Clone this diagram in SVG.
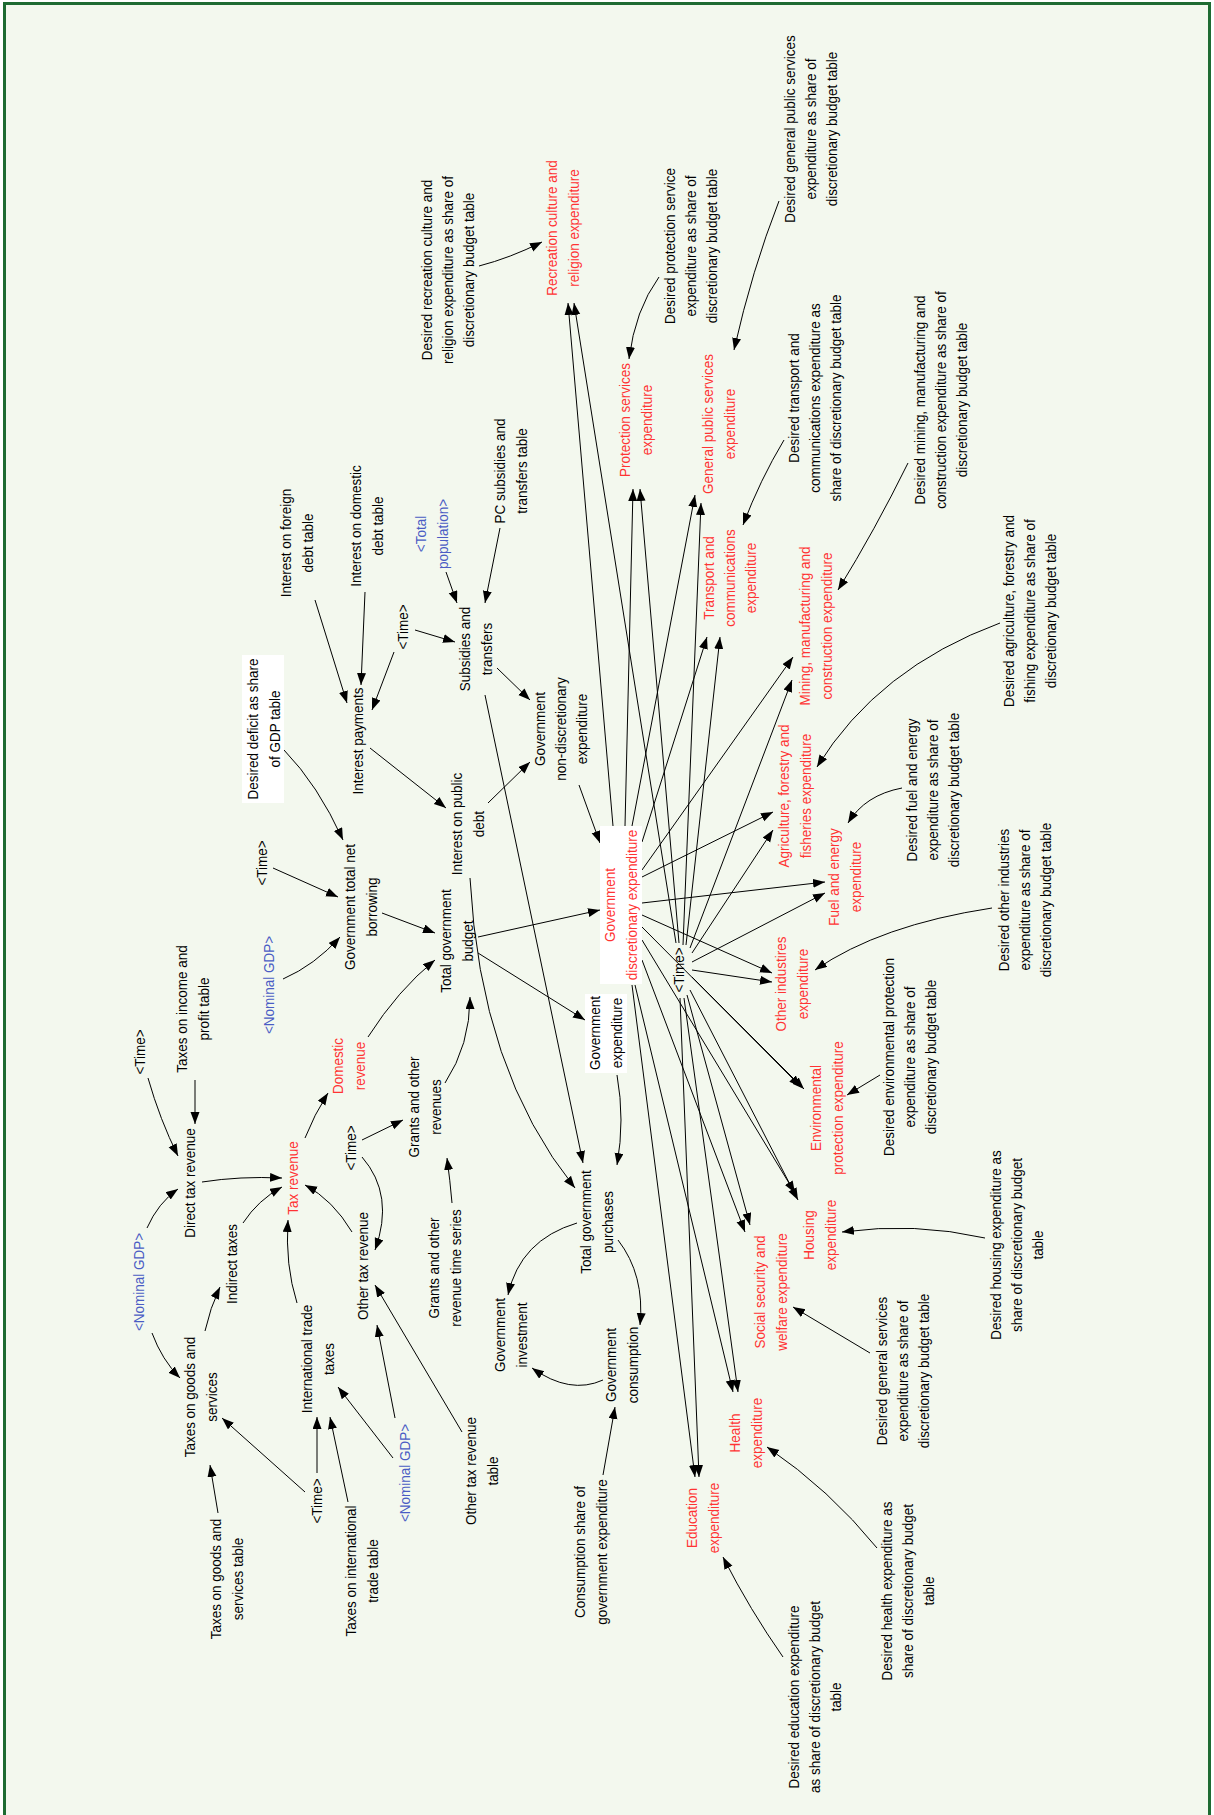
<svg xmlns="http://www.w3.org/2000/svg" width="1214" height="1815" viewBox="0 0 1214 1815">
<style>
.t{font-family:"Liberation Sans",Arial,sans-serif;font-size:15px;text-anchor:middle}
.k{fill:#000}.r{fill:#f33}.b{fill:#4a5cc4}
.c path,.c line{stroke:#000;stroke-width:1;fill:none;marker-end:url(#ah)}
.wb{fill:#fff}
</style>
<defs>
<marker id="ah" markerUnits="userSpaceOnUse" markerWidth="14" markerHeight="10" refX="12" refY="4.5" orient="auto"><path d="M0,0 L12,4.5 L0,9 z" fill="#000"/></marker>
</defs>
<rect x="0" y="0" width="1214" height="1815" fill="#fff"/>
<rect x="4.5" y="3.5" width="1205" height="1840" fill="#f3f8ee" stroke="#1e6b32" stroke-width="3"/>

<g id="connectors" class="c">
<path d="M148,1078 Q160,1120 178,1156"/>
<path d="M195,1080 L195,1124"/>
<path d="M147,1228 Q158,1203 178,1189"/>
<path d="M152,1333 Q162,1360 180,1378"/>
<path d="M205,1331 Q210,1308 220,1287"/>
<path d="M202,1182 Q240,1176 282,1178"/>
<path d="M243,1223 Q258,1200 282,1187"/>
<path d="M297,1303 Q285,1265 288,1220"/>
<path d="M352,1232 Q333,1200 305,1185"/>
<path d="M305,1138 Q314,1115 328,1093"/>
<path d="M368,1037 Q398,990 435,960"/>
<path d="M283,979 Q315,965 340,937"/>
<path d="M273,868 L338,897"/>
<path d="M284,750 Q318,785 343,840"/>
<path d="M382,913 L435,933"/>
<path d="M445,1083 Q470,1045 470,997"/>
<path d="M452,1203 Q450,1180 447,1158"/>
<path d="M362,1140 L403,1120"/>
<path d="M362,1157 Q395,1195 375,1250"/>
<path d="M462,1432 L375,1285"/>
<path d="M395,1418 L377,1325"/>
<path d="M393,1458 L338,1387"/>
<path d="M317,1473 L317,1417"/>
<path d="M305,1492 L222,1418"/>
<path d="M348,1502 L330,1417"/>
<path d="M218,1513 L210,1465"/>
<path d="M315,600 L347,703"/>
<path d="M365,592 L361,685"/>
<path d="M394,652 L372,710"/>
<path d="M415,630 L455,642"/>
<path d="M446,572 L457,603"/>
<path d="M500,528 L485,603"/>
<path d="M497,668 L530,700"/>
<path d="M370,748 L446,808"/>
<path d="M488,803 L530,762"/>
<path d="M579,785 L600,843"/>
<path d="M485,695 L583,1163"/>
<path d="M470,878 Q480,1070 575,1188"/>
<path d="M478,937 L600,910"/>
<path d="M478,953 L585,1020"/>
<path d="M617,1075 Q625,1120 617,1165"/>
<path d="M577,1223 Q520,1240 508,1295"/>
<path d="M618,1240 Q645,1275 640,1325"/>
<path d="M603,1380 Q570,1395 532,1368"/>
<path d="M603,1475 L615,1407"/>
<path d="M479,266 Q510,258 542,242"/>
<path d="M659,277 Q635,310 629,359"/>
<path d="M779,201 Q752,270 734,350"/>
<path d="M784,440 Q760,480 743,525"/>
<path d="M908,463 Q875,530 838,590"/>
<path d="M1000,623 Q878,668 817,767"/>
<path d="M902,788 Q865,795 848,823"/>
<path d="M992,908 Q880,925 815,970"/>
<path d="M880,1075 L847,1095"/>
<path d="M985,1238 Q915,1222 842,1232"/>
<path d="M870,1353 L793,1307"/>
<path d="M877,1548 Q830,1490 767,1447"/>
<path d="M783,1657 Q750,1610 723,1557"/>
<line x1="613" y1="826" x2="568" y2="303"/>
<line x1="676" y1="943" x2="574" y2="303"/>
<line x1="625" y1="826" x2="633" y2="489"/>
<line x1="679" y1="943" x2="640" y2="489"/>
<line x1="632" y1="826" x2="695" y2="495"/>
<line x1="683" y1="945" x2="701" y2="503"/>
<line x1="642" y1="842" x2="707" y2="637"/>
<line x1="686" y1="945" x2="720" y2="637"/>
<line x1="642" y1="870" x2="793" y2="657"/>
<line x1="690" y1="948" x2="792" y2="680"/>
<line x1="642" y1="877" x2="773" y2="812"/>
<line x1="692" y1="953" x2="773" y2="830"/>
<line x1="642" y1="903" x2="825" y2="882"/>
<line x1="692" y1="962" x2="825" y2="893"/>
<line x1="642" y1="915" x2="772" y2="973"/>
<line x1="692" y1="970" x2="772" y2="982"/>
<line x1="642" y1="927" x2="801" y2="1087"/>
<line x1="692" y1="977" x2="804" y2="1089"/>
<line x1="642" y1="940" x2="795" y2="1193"/>
<line x1="690" y1="990" x2="798" y2="1200"/>
<line x1="642" y1="960" x2="745" y2="1232"/>
<line x1="687" y1="995" x2="750" y2="1225"/>
<line x1="635" y1="985" x2="733" y2="1392"/>
<line x1="684" y1="998" x2="738" y2="1392"/>
<line x1="632" y1="985" x2="695" y2="1477"/>
<line x1="680" y1="998" x2="699" y2="1477"/>
</g>

<g id="desired-recreation"><text class="t k" transform="translate(448,270) rotate(-90) scale(0.9,1)"><tspan x="0" y="-16.5">Desired recreation culture and</tspan><tspan x="0" y="5">religion expenditure as share of</tspan><tspan x="0" y="26.5">discretionary budget table</tspan></text></g>
<g id="recreation-exp"><text class="t r" transform="translate(563,228) rotate(-90) scale(0.9,1)"><tspan x="0" y="-5.75">Recreation culture and</tspan><tspan x="0" y="15.75">religion expenditure</tspan></text></g>
<g id="desired-protection"><text class="t k" transform="translate(691,246) rotate(-90) scale(0.9,1)"><tspan x="0" y="-16.5">Desired protection service</tspan><tspan x="0" y="5">expenditure as share of</tspan><tspan x="0" y="26.5">discretionary budget table</tspan></text></g>
<g id="protection-exp"><text class="t r" transform="translate(636,420) rotate(-90) scale(0.9,1)"><tspan x="0" y="-5.75">Protection services</tspan><tspan x="0" y="15.75">expenditure</tspan></text></g>
<g id="desired-gps"><text class="t k" transform="translate(811,129) rotate(-90) scale(0.9,1)"><tspan x="0" y="-16.5">Desired general public services</tspan><tspan x="0" y="5">expenditure as share of</tspan><tspan x="0" y="26.5">discretionary budget table</tspan></text></g>
<g id="gps-exp"><text class="t r" transform="translate(719,424) rotate(-90) scale(0.9,1)"><tspan x="0" y="-5.75">General public services</tspan><tspan x="0" y="15.75">expenditure</tspan></text></g>
<g id="desired-transport"><text class="t k" transform="translate(815,398) rotate(-90) scale(0.9,1)"><tspan x="0" y="-16.5">Desired transport and</tspan><tspan x="0" y="5">communications expenditure as</tspan><tspan x="0" y="26.5">share of discretionary budget table</tspan></text></g>
<g id="transport-exp"><text class="t r" transform="translate(730,578) rotate(-90) scale(0.9,1)"><tspan x="0" y="-16.5">Transport and</tspan><tspan x="0" y="5">communications</tspan><tspan x="0" y="26.5">expenditure</tspan></text></g>
<g id="desired-mining"><text class="t k" transform="translate(941,400) rotate(-90) scale(0.9,1)"><tspan x="0" y="-16.5">Desired mining, manufacturing and</tspan><tspan x="0" y="5">construction expenditure as share of</tspan><tspan x="0" y="26.5">discretionary budget table</tspan></text></g>
<g id="mining-exp"><text class="t r" transform="translate(816,626) rotate(-90) scale(0.9,1)"><tspan x="0" y="-5.75">Mining, manufacturing and</tspan><tspan x="0" y="15.75">construction expenditure</tspan></text></g>
<g id="desired-agriculture"><text class="t k" transform="translate(1030,611) rotate(-90) scale(0.9,1)"><tspan x="0" y="-16.5">Desired agriculture, forestry and</tspan><tspan x="0" y="5">fishing expenditure as share of</tspan><tspan x="0" y="26.5">discretionary budget table</tspan></text></g>
<g id="agriculture-exp"><text class="t r" transform="translate(795,796) rotate(-90) scale(0.9,1)"><tspan x="0" y="-5.75">Agriculture, forestry and</tspan><tspan x="0" y="15.75">fisheries expenditure</tspan></text></g>
<g id="desired-fuel"><text class="t k" transform="translate(933,790) rotate(-90) scale(0.9,1)"><tspan x="0" y="-16.5">Desired fuel and energy</tspan><tspan x="0" y="5">expenditure as share of</tspan><tspan x="0" y="26.5">discretionary budget table</tspan></text></g>
<g id="fuel-exp"><text class="t r" transform="translate(845,877) rotate(-90) scale(0.9,1)"><tspan x="0" y="-5.75">Fuel and energy</tspan><tspan x="0" y="15.75">expenditure</tspan></text></g>
<g id="desired-other"><text class="t k" transform="translate(1025,900) rotate(-90) scale(0.9,1)"><tspan x="0" y="-16.5">Desired other industries</tspan><tspan x="0" y="5">expenditure as share of</tspan><tspan x="0" y="26.5">discretionary budget table</tspan></text></g>
<g id="other-exp"><text class="t r" transform="translate(792,984) rotate(-90) scale(0.9,1)"><tspan x="0" y="-5.75">Other industires</tspan><tspan x="0" y="15.75">expenditure</tspan></text></g>
<g id="desired-env"><text class="t k" transform="translate(910,1057) rotate(-90) scale(0.9,1)"><tspan x="0" y="-16.5">Desired environmental protection</tspan><tspan x="0" y="5">expenditure as share of</tspan><tspan x="0" y="26.5">discretionary budget table</tspan></text></g>
<g id="env-exp"><text class="t r" transform="translate(827,1108) rotate(-90) scale(0.9,1)"><tspan x="0" y="-5.75">Environmental</tspan><tspan x="0" y="15.75">protection expenditure</tspan></text></g>
<g id="desired-housing"><text class="t k" transform="translate(1017,1245) rotate(-90) scale(0.9,1)"><tspan x="0" y="-16.5">Desired housing expenditure as</tspan><tspan x="0" y="5">share of discretionary budget</tspan><tspan x="0" y="26.5">table</tspan></text></g>
<g id="housing-exp"><text class="t r" transform="translate(820,1235) rotate(-90) scale(0.9,1)"><tspan x="0" y="-5.75">Housing</tspan><tspan x="0" y="15.75">expenditure</tspan></text></g>
<g id="desired-general-services"><text class="t k" transform="translate(903,1371) rotate(-90) scale(0.9,1)"><tspan x="0" y="-16.5">Desired general services</tspan><tspan x="0" y="5">expenditure as share of</tspan><tspan x="0" y="26.5">discretionary budget table</tspan></text></g>
<g id="social-exp"><text class="t r" transform="translate(771,1292) rotate(-90) scale(0.9,1)"><tspan x="0" y="-5.75">Social security and</tspan><tspan x="0" y="15.75">welfare expenditure</tspan></text></g>
<g id="desired-health"><text class="t k" transform="translate(908,1591) rotate(-90) scale(0.9,1)"><tspan x="0" y="-16.5">Desired health expenditure as</tspan><tspan x="0" y="5">share of discretionary budget</tspan><tspan x="0" y="26.5">table</tspan></text></g>
<g id="health-exp"><text class="t r" transform="translate(746,1433) rotate(-90) scale(0.9,1)"><tspan x="0" y="-5.75">Health</tspan><tspan x="0" y="15.75">expenditure</tspan></text></g>
<g id="desired-education"><text class="t k" transform="translate(815,1697) rotate(-90) scale(0.9,1)"><tspan x="0" y="-16.5">Desired education expenditure</tspan><tspan x="0" y="5">as share of discretionary budget</tspan><tspan x="0" y="26.5">table</tspan></text></g>
<g id="education-exp"><text class="t r" transform="translate(703,1518) rotate(-90) scale(0.9,1)"><tspan x="0" y="-5.75">Education</tspan><tspan x="0" y="15.75">expenditure</tspan></text></g>

<g id="gov-discretionary"><rect class="wb" x="600" y="826" width="42" height="158"/><text class="t r" transform="translate(621,905) rotate(-90) scale(0.9,1)"><tspan x="0" y="-5.75">Government</tspan><tspan x="0" y="15.75">discretionary expenditure</tspan></text></g>
<g id="time-hub"><text class="t k" transform="translate(679,970) rotate(-90) scale(0.9,1)"><tspan x="0" y="5">&lt;Time&gt;</tspan></text></g>

<g id="interest-foreign-table"><text class="t k" transform="translate(297,543) rotate(-90) scale(0.9,1)"><tspan x="0" y="-5.75">Interest on foreign</tspan><tspan x="0" y="15.75">debt table</tspan></text></g>
<g id="interest-domestic-table"><text class="t k" transform="translate(367,526) rotate(-90) scale(0.9,1)"><tspan x="0" y="-5.75">Interest on domestic</tspan><tspan x="0" y="15.75">debt table</tspan></text></g>
<g id="total-population"><text class="t b" transform="translate(432,534) rotate(-90) scale(0.9,1)"><tspan x="0" y="-5.75">&lt;Total</tspan><tspan x="0" y="15.75">population&gt;</tspan></text></g>
<g id="pc-subsidies-table"><text class="t k" transform="translate(511,471) rotate(-90) scale(0.9,1)"><tspan x="0" y="-5.75">PC subsidies and</tspan><tspan x="0" y="15.75">transfers table</tspan></text></g>
<g id="time-subsidies"><text class="t k" transform="translate(403,627) rotate(-90) scale(0.9,1)"><tspan x="0" y="5">&lt;Time&gt;</tspan></text></g>
<g id="subsidies"><text class="t k" transform="translate(476,649) rotate(-90) scale(0.9,1)"><tspan x="0" y="-5.75">Subsidies and</tspan><tspan x="0" y="15.75">transfers</tspan></text></g>
<g id="interest-payments"><text class="t k" transform="translate(358,741) rotate(-90) scale(0.9,1)"><tspan x="0" y="5">Interest payments</tspan></text></g>
<g id="desired-deficit"><rect class="wb" x="242" y="655" width="42" height="148"/><text class="t k" transform="translate(264,729) rotate(-90) scale(0.9,1)"><tspan x="0" y="-5.75">Desired deficit as share</tspan><tspan x="0" y="15.75">of GDP table</tspan></text></g>
<g id="gov-nondiscretionary"><text class="t k" transform="translate(561,729) rotate(-90) scale(0.9,1)"><tspan x="0" y="-16.5">Government</tspan><tspan x="0" y="5">non-discretionary</tspan><tspan x="0" y="26.5">expenditure</tspan></text></g>
<g id="interest-public-debt"><text class="t k" transform="translate(468,824) rotate(-90) scale(0.9,1)"><tspan x="0" y="-5.75">Interest on public</tspan><tspan x="0" y="15.75">debt</tspan></text></g>
<g id="net-borrowing"><text class="t k" transform="translate(361,907) rotate(-90) scale(0.9,1)"><tspan x="0" y="-5.75">Government total net</tspan><tspan x="0" y="15.75">borrowing</tspan></text></g>
<g id="time-borrowing"><text class="t k" transform="translate(262,863) rotate(-90) scale(0.9,1)"><tspan x="0" y="5">&lt;Time&gt;</tspan></text></g>
<g id="nominal-gdp-1"><text class="t b" transform="translate(269,985) rotate(-90) scale(0.9,1)"><tspan x="0" y="5">&lt;Nominal GDP&gt;</tspan></text></g>
<g id="total-budget"><text class="t k" transform="translate(457,941) rotate(-90) scale(0.9,1)"><tspan x="0" y="-5.75">Total government</tspan><tspan x="0" y="15.75">budget</tspan></text></g>
<g id="gov-expenditure"><rect class="wb" x="585" y="994" width="42" height="79"/><text class="t k" transform="translate(606,1033) rotate(-90) scale(0.9,1)"><tspan x="0" y="-5.75">Government</tspan><tspan x="0" y="15.75">expenditure</tspan></text></g>
<g id="domestic-revenue"><text class="t r" transform="translate(349,1066) rotate(-90) scale(0.9,1)"><tspan x="0" y="-5.75">Domestic</tspan><tspan x="0" y="15.75">revenue</tspan></text></g>
<g id="income-profit-table"><text class="t k" transform="translate(193,1009) rotate(-90) scale(0.9,1)"><tspan x="0" y="-5.75">Taxes on income and</tspan><tspan x="0" y="15.75">profit table</tspan></text></g>
<g id="time-direct"><text class="t k" transform="translate(140,1052) rotate(-90) scale(0.9,1)"><tspan x="0" y="5">&lt;Time&gt;</tspan></text></g>
<g id="direct-tax"><text class="t k" transform="translate(190,1183) rotate(-90) scale(0.9,1)"><tspan x="0" y="5">Direct tax revenue</tspan></text></g>
<g id="tax-revenue"><text class="t r" transform="translate(293,1178) rotate(-90) scale(0.9,1)"><tspan x="0" y="5">Tax revenue</tspan></text></g>
<g id="time-grants"><text class="t k" transform="translate(351,1148) rotate(-90) scale(0.9,1)"><tspan x="0" y="5">&lt;Time&gt;</tspan></text></g>
<g id="grants"><text class="t k" transform="translate(425,1107) rotate(-90) scale(0.9,1)"><tspan x="0" y="-5.75">Grants and other</tspan><tspan x="0" y="15.75">revenues</tspan></text></g>
<g id="other-tax"><text class="t k" transform="translate(363,1266) rotate(-90) scale(0.9,1)"><tspan x="0" y="5">Other tax revenue</tspan></text></g>
<g id="grants-series"><text class="t k" transform="translate(445,1268) rotate(-90) scale(0.9,1)"><tspan x="0" y="-5.75">Grants and other</tspan><tspan x="0" y="15.75">revenue time series</tspan></text></g>
<g id="indirect-taxes"><text class="t k" transform="translate(232,1264) rotate(-90) scale(0.9,1)"><tspan x="0" y="5">Indirect taxes</tspan></text></g>
<g id="nominal-gdp-2"><text class="t b" transform="translate(139,1282) rotate(-90) scale(0.9,1)"><tspan x="0" y="5">&lt;Nominal GDP&gt;</tspan></text></g>
<g id="goods-services"><text class="t k" transform="translate(201,1397) rotate(-90) scale(0.9,1)"><tspan x="0" y="-5.75">Taxes on goods and</tspan><tspan x="0" y="15.75">services</tspan></text></g>
<g id="intl-trade"><text class="t k" transform="translate(318,1359) rotate(-90) scale(0.9,1)"><tspan x="0" y="-5.75">International trade</tspan><tspan x="0" y="15.75">taxes</tspan></text></g>
<g id="total-purchases"><text class="t k" transform="translate(597,1222) rotate(-90) scale(0.9,1)"><tspan x="0" y="-5.75">Total government</tspan><tspan x="0" y="15.75">purchases</tspan></text></g>
<g id="gov-investment"><text class="t k" transform="translate(511,1335) rotate(-90) scale(0.9,1)"><tspan x="0" y="-5.75">Government</tspan><tspan x="0" y="15.75">investment</tspan></text></g>
<g id="gov-consumption"><text class="t k" transform="translate(622,1365) rotate(-90) scale(0.9,1)"><tspan x="0" y="-5.75">Government</tspan><tspan x="0" y="15.75">consumption</tspan></text></g>
<g id="consumption-share"><text class="t k" transform="translate(591,1552) rotate(-90) scale(0.9,1)"><tspan x="0" y="-5.75">Consumption share of</tspan><tspan x="0" y="15.75">government expenditure</tspan></text></g>
<g id="time-trade"><text class="t k" transform="translate(317,1501) rotate(-90) scale(0.9,1)"><tspan x="0" y="5">&lt;Time&gt;</tspan></text></g>
<g id="nominal-gdp-3"><text class="t b" transform="translate(405,1473) rotate(-90) scale(0.9,1)"><tspan x="0" y="5">&lt;Nominal GDP&gt;</tspan></text></g>
<g id="goods-services-table"><text class="t k" transform="translate(227,1579) rotate(-90) scale(0.9,1)"><tspan x="0" y="-5.75">Taxes on goods and</tspan><tspan x="0" y="15.75">services table</tspan></text></g>
<g id="intl-trade-table"><text class="t k" transform="translate(362,1571) rotate(-90) scale(0.9,1)"><tspan x="0" y="-5.75">Taxes on international</tspan><tspan x="0" y="15.75">trade table</tspan></text></g>
<g id="other-tax-table"><text class="t k" transform="translate(482,1471) rotate(-90) scale(0.9,1)"><tspan x="0" y="-5.75">Other tax revenue</tspan><tspan x="0" y="15.75">table</tspan></text></g>
</svg>
